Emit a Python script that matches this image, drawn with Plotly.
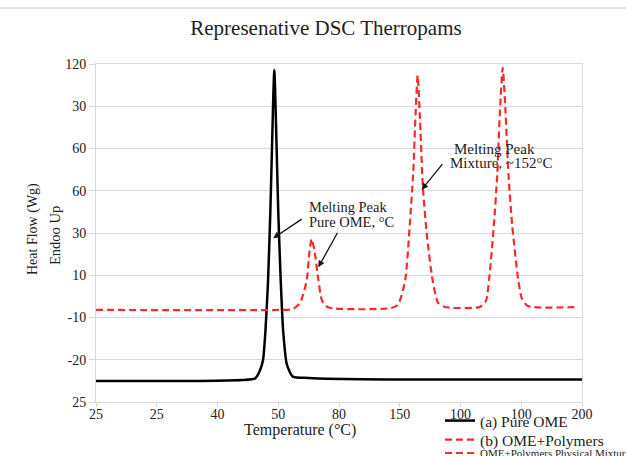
import plotly.graph_objects as go

# ---- data (x in axis-position units, y in axis-position units) ----
x_ticklabels = ["25", "25", "40", "50", "80", "150", "100", "100", "200"]
y_ticklabels = ["25", "-20", "-10", "10", "30", "60", "60", "30", "120"]

pure_x = [0, 1.7, 2.4, 2.62, 2.7, 2.75, 2.79, 2.83, 2.87, 2.90, 2.935,
          2.97, 3.0, 3.04, 3.08, 3.14, 3.24, 3.5, 3.8, 4.8, 8.0]
pure_y = [0.50, 0.50, 0.52, 0.56, 0.75, 1.0, 1.7, 2.8, 4.5, 6.2, 7.86,
          6.2, 4.5, 2.9, 1.7, 0.9, 0.6, 0.57, 0.55, 0.53, 0.53]

mix_x = [0, 3.03, 3.24, 3.36, 3.47, 3.51, 3.55, 3.60, 3.66, 3.72, 3.82,
         4.84, 4.97, 5.09, 5.17, 5.22, 5.26, 5.295, 5.33, 5.38, 5.45, 5.54, 5.63, 5.74,
         6.32, 6.42, 6.47, 6.55, 6.605, 6.65, 6.695, 6.74, 6.79, 6.85, 6.95, 7.01, 7.11, 7.93]
mix_y = [2.18, 2.18, 2.20, 2.35, 2.89, 3.5, 3.86, 3.55, 2.89, 2.4, 2.24,
         2.22, 2.3, 2.89, 4.3, 5.38, 6.8, 7.73, 6.8, 5.1, 3.9, 2.89, 2.35, 2.25,
         2.25, 2.4, 2.89, 4.2, 5.38, 6.9, 7.91, 6.9, 5.38, 4.2, 2.89, 2.45, 2.27, 2.25]

SERIF = "Liberation Serif, Times New Roman, serif"
RED = "rgb(248,42,42)"
TXT = "#222"

fig = go.Figure()
fig.add_trace(go.Scatter(x=pure_x, y=pure_y, mode="lines", name="(a) Pure OME", legend="legend",
                         line=dict(color="black", width=2.5, shape="spline", smoothing=0.6)))
fig.add_trace(go.Scatter(x=mix_x, y=mix_y, mode="lines", name="(b) OME+Polymers", legend="legend2",
                         line=dict(color=RED, width=2.2, dash="7px,4px", shape="spline", smoothing=0.6)))
fig.add_trace(go.Scatter(x=[None], y=[None], mode="lines", legend="legend3",
                         name="OME+Polymers Physical Mixture",
                         line=dict(color=RED, width=2.2, dash="7px,4px")))

grid = "#d9d9d9"
fig.update_xaxes(range=[0, 8], tickvals=list(range(9)), ticktext=x_ticklabels,
                 showgrid=False, zeroline=False, showline=True, linecolor=grid, mirror=True,
                 ticks="outside", ticklen=4, tickcolor=grid, ticklabelstandoff=-5,
                 tickfont=dict(family=SERIF, size=14, color=TXT))
fig.update_yaxes(range=[0, 8], tickvals=list(range(9)), ticktext=y_ticklabels,
                 showgrid=True, gridcolor=grid, gridwidth=1, zeroline=False,
                 showline=True, linecolor=grid, mirror=True,
                 ticks="outside", ticklen=6, tickcolor=grid,
                 tickfont=dict(family=SERIF, size=14, color=TXT))

L, R, T, B = 96, 44, 64, 54
W, H = 626, 456
pw, ph = W - L - R, H - T - B


def px_x(px):
    return (px - L) / pw


def px_y(py):
    return (H - B - py) / ph


ann_font = dict(family=SERIF, size=14.5, color=TXT)
ann_font2 = dict(family=SERIF, size=15, color=TXT)
annotations = [
    dict(x=3.473, y=4.62, xref="x", yref="y", text="Melting Peak", showarrow=False,
         xanchor="left", yanchor="middle", font=ann_font),
    dict(x=3.473, y=4.265, xref="x", yref="y", text="Pure OME, °C", showarrow=False,
         xanchor="left", yanchor="middle", font=ann_font),
    dict(x=6.56, y=5.995, xref="x", yref="y", text="Melting Peak", showarrow=False,
         xanchor="center", yanchor="middle", font=ann_font2),
    dict(x=6.66, y=5.66, xref="x", yref="y", text="Mixture, ~152°C", showarrow=False,
         xanchor="center", yanchor="middle", font=ann_font2),
    # arrows
    dict(x=2.918, y=3.878, xref="x", yref="y", text="", showarrow=True, ax=30, ay=-20,
         arrowhead=2, arrowsize=1, arrowwidth=1.3, arrowcolor="#111", standoff=0),
    dict(x=3.66, y=3.19, xref="x", yref="y", text="", showarrow=True, ax=20, ay=-36,
         arrowhead=2, arrowsize=1, arrowwidth=1.3, arrowcolor="#111", standoff=0),
    dict(x=5.36, y=5.025, xref="x", yref="y", text="", showarrow=True, ax=22, ay=-27,
         arrowhead=2, arrowsize=1, arrowwidth=1.3, arrowcolor="#111", standoff=0),
    # axis titles
    dict(x=px_x(33), y=px_y(229), xref="paper", yref="paper", text="Heat Flow (Wg)",
         showarrow=False, textangle=-90, xanchor="center", yanchor="middle",
         font=dict(family=SERIF, size=14, color=TXT)),
    dict(x=px_x(55), y=px_y(236), xref="paper", yref="paper", text="Endoo Up",
         showarrow=False, textangle=-90, xanchor="center", yanchor="middle",
         font=dict(family=SERIF, size=14.5, color=TXT)),
    dict(x=px_x(300), y=px_y(430), xref="paper", yref="paper", text="Temperature (°C)",
         showarrow=False, xanchor="center", yanchor="middle",
         font=dict(family=SERIF, size=16, color=TXT)),
]


def leg(py, size):
    return dict(x=px_x(440), xanchor="left", y=px_y(py), yanchor="middle",
                font=dict(family=SERIF, size=size, color=TXT), bgcolor="rgba(0,0,0,0)",
                itemwidth=30, borderwidth=0)


fig.update_layout(
    width=W, height=H,
    margin=dict(l=L, r=R, t=T, b=B, autoexpand=False),
    paper_bgcolor="white", plot_bgcolor="white",
    title=dict(text="Represenative DSC Therropams", x=326 / W, xanchor="center",
               y=1 - 28 / H, yanchor="middle",
               font=dict(family=SERIF, size=21, color=TXT)),
    showlegend=True,
    legend=leg(421, 15.5),
    legend2=leg(440, 15.5),
    legend3=leg(453, 11),
    annotations=annotations,
    shapes=[dict(type="line", xref="paper", yref="paper", x0=px_x(0), x1=px_x(W),
                 y0=px_y(8), y1=px_y(8), line=dict(color="#c4c4c4", width=1))],
)
fig.write_html("out.html", config={"displayModeBar": False},
               post_script="document.body.style.margin='0px';")
